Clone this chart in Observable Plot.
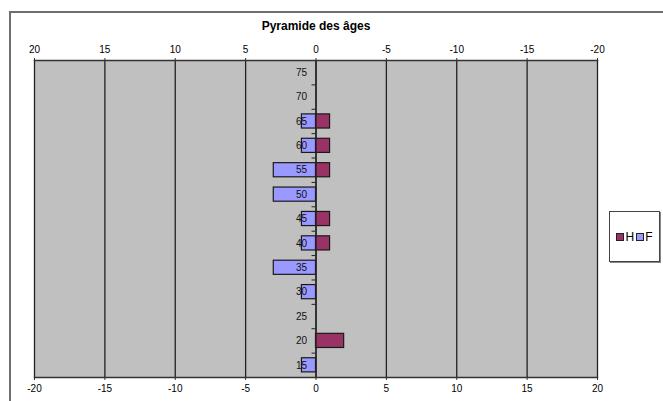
<!DOCTYPE html>
<html>
<head>
<meta charset="utf-8">
<script src="https://cdn.jsdelivr.net/npm/d3@7"></script>
<script src="https://cdn.jsdelivr.net/npm/@observablehq/plot@0.6"></script>
<style>
  html, body { margin: 0; padding: 0; background: #fff; overflow: hidden; }
  #wrap { position: relative; width: 663px; height: 401px; overflow: hidden; font-family: "Liberation Sans", Arial, sans-serif; }
  #outer { position: absolute; left: 9px; top: 11px; width: 720px; height: 460px; border: 2px solid #6e6e6e; box-sizing: border-box; pointer-events: none; }
  #legend { position: absolute; left: 609px; top: 211px; width: 51px; height: 51px; border: 1px solid #444; box-shadow: 1px 1px 0 #888; background: #fff; box-sizing: border-box;
            display: flex; align-items: center; justify-content: center; font-size: 12px; color: #000; }
  .sw { display: inline-block; width: 6px; height: 6px; border: 1px solid #222; margin: 0 1px 0 0; }
  .item { display: inline-flex; align-items: center; margin: 0 1px; }
</style>
</head>
<body>
<div id="wrap">
  <div id="chart"></div>
  <div id="outer"></div>
  <div id="legend"></div>
</div>
<script>
// ---- data ----
const title = "Pyramide des âges";
const ages = [15, 20, 25, 30, 35, 40, 45, 50, 55, 60, 65, 70, 75];
const hommes = [0, 2, 0, 0, 0, 1, 1, 0, 1, 1, 1, 0, 0];   // H (right)
const femmes = [1, 0, 0, 1, 3, 1, 1, 3, 3, 1, 1, 0, 0];   // F (left)
const xTicks = [-20, -15, -10, -5, 0, 5, 10, 15, 20];
const seriesNames = ["H", "F"];
const colors = {H: "#993366", F: "#9999ff"};

const rows = [];
ages.forEach((a, i) => {
  if (hommes[i]) rows.push({age: a, serie: "H", v: hommes[i]});
  if (femmes[i]) rows.push({age: a, serie: "F", v: -femmes[i]});
});
const step = ages[1] - ages[0];
const boundaries = ages.slice(0, -1).map(a => a + step / 2);
const half = step * 0.29;

const chart = Plot.plot({
  width: 663,
  height: 401,
  marginLeft: 34,
  marginRight: 66,
  marginTop: 60,
  marginBottom: 24,
  style: {fontFamily: "'Liberation Sans', Arial, sans-serif", fontSize: "10px", color: "#000", background: "transparent"},
  x: {domain: [xTicks[0], xTicks[xTicks.length - 1]], label: null},
  y: {domain: [ages[0] - step / 2, ages[ages.length - 1] + step / 2], axis: null, label: null},
  marks: [
    Plot.frame({fill: "#c0c0c0", stroke: "none"}),
    Plot.ruleX(xTicks, {stroke: "#222", strokeWidth: 1.3}),
    Plot.rectX(rows, {
      x1: 0, x2: "v",
      y1: d => d.age - half, y2: d => d.age + half,
      fill: d => colors[d.serie], stroke: "#1a1a1a", strokeWidth: 1.2
    }),
    Plot.ruleX([0], {stroke: "#222", strokeWidth: 1.3}),
    Plot.ruleY(boundaries, {y: d => d, x1: 0, x2: 0, insetLeft: -4, stroke: "#222"}),
    Plot.text(ages, {x: 0, y: d => d, text: d => String(d), textAnchor: "end", dx: -9, fill: "#111", fontSize: 10}),
    Plot.frame({stroke: "#333", strokeWidth: 1.5, fill: "none", anchor: "top"}),
    Plot.frame({stroke: "#333", strokeWidth: 1.5, fill: "none", anchor: "bottom"}),
    Plot.axisX({anchor: "top", ticks: xTicks, tickFormat: d => String(-d), tickSize: 3, tickPadding: 5, stroke: "#333", fill: "#000", label: null}),
    Plot.axisX({anchor: "bottom", ticks: xTicks, tickFormat: d => String(d), tickSize: 3, tickPadding: 4, stroke: "#333", fill: "#000", label: null}),
    Plot.text([title], {frameAnchor: "top", dy: -34, text: d => d, fontWeight: "bold", fontSize: 12, fill: "#000", lineAnchor: "middle"})
  ]
});
document.getElementById("chart").appendChild(chart);

const leg = document.getElementById("legend");
seriesNames.forEach(s => {
  const it = document.createElement("span");
  it.className = "item";
  const sw = document.createElement("span");
  sw.className = "sw";
  sw.style.background = colors[s];
  it.appendChild(sw);
  it.appendChild(document.createTextNode(s));
  leg.appendChild(it);
});
</script>
</body>
</html>
